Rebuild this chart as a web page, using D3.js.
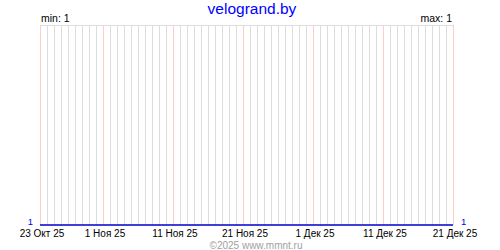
<!DOCTYPE html>
<html><head><meta charset="utf-8">
<script src="https://cdn.jsdelivr.net/npm/d3@7"></script>
<style>body{margin:0;background:#fff}svg{display:block}text{font-family:"Liberation Sans",Arial,sans-serif}</style>
</head><body>
<script>
const title = "velogrand.by";
const startDate = "2025-10-23";
const endDate = "2025-12-21";
const values = [1,1,1,1,1,1,1,1,1,1,1,1,1,1,1,1,1,1,1,1,1,1,1,1,1,1,1,1,1,1,
                1,1,1,1,1,1,1,1,1,1,1,1,1,1,1,1,1,1,1,1,1,1,1,1,1,1,1,1,1,1];
const tickDates = ["2025-10-23","2025-11-01","2025-11-11","2025-11-21","2025-12-01","2025-12-11","2025-12-21"];
const tickLabels = ["23 Окт 25","1 Ноя 25","11 Ноя 25","21 Ноя 25","1 Дек 25","11 Дек 25","21 Дек 25"];
const minLabel = "min: 1", maxLabel = "max: 1";
const copyright = "©2025 www.mmnt.ru";

const W = 500, H = 250;
const parse = d3.utcParse("%Y-%m-%d");
const x0 = parse(startDate), x1 = parse(endDate);
const days = d3.utcDay.range(x0, d3.utcDay.offset(x1, 1));
const data = days.map((d, i) => ({date: d, value: values[i]}));

const x = d3.scaleUtc().domain([x0, x1]).range([40, 453]);
const y = d3.scaleLinear().domain([1, 2]).range([225, 25]);

const svg = d3.select("body").append("svg").attr("width", W).attr("height", H);

// top border
svg.append("line").attr("x1", 40).attr("x2", 453.5).attr("y1", 25.5).attr("y2", 25.5)
  .attr("stroke", "#dddddd");

// day grid
const ticks = tickDates.map(parse);
const isMajor = d => ticks.some(t => +t === +d);
svg.append("g").selectAll("line").data(days).join("line")
  .attr("x1", d => Math.round(x(d)) + 0.5).attr("x2", d => Math.round(x(d)) + 0.5)
  .attr("y1", 25).attr("y2", 225)
  .attr("stroke", d => isMajor(d) ? "#ffcccc" : "#dddddd");

// line
svg.append("path").datum(data)
  .attr("fill", "none").attr("stroke", "#0000cc").attr("stroke-width", 1.5)
  .attr("d", d3.line().x(d => x(d.date)).y(d => y(d.value)));

// x labels
svg.append("g").selectAll("text").data(tickDates).join("text")
  .attr("x", (d) => x(parse(d)) + 2).attr("y", 236.5)
  .attr("text-anchor", "middle").attr("font-size", 10).attr("fill", "#000")
  .text((d, i) => tickLabels[i]);

// end values
svg.append("text").attr("x", 33).attr("y", 225).attr("text-anchor", "end")
  .attr("font-size", 9.5).attr("fill", "#0000ff").text(values[0]);
svg.append("text").attr("x", 461).attr("y", 225).attr("text-anchor", "start")
  .attr("font-size", 9.5).attr("fill", "#0000ff").text(values[values.length - 1]);

// min/max
svg.append("text").attr("x", 41).attr("y", 22).attr("font-size", 10.5).attr("fill", "#000").text(minLabel);
svg.append("text").attr("x", 452).attr("y", 22).attr("text-anchor", "end").attr("font-size", 10.5).attr("fill", "#000").text(maxLabel);

// title
svg.append("text").attr("x", 252).attr("y", 14).attr("text-anchor", "middle")
  .attr("font-size", 15.5).attr("fill", "#0000ff").text(title);

// copyright
svg.append("text").attr("x", 256).attr("y", 248.5).attr("text-anchor", "middle")
  .attr("font-size", 10).attr("fill", "#a0a0a0").text(copyright);
</script>
</body></html>
